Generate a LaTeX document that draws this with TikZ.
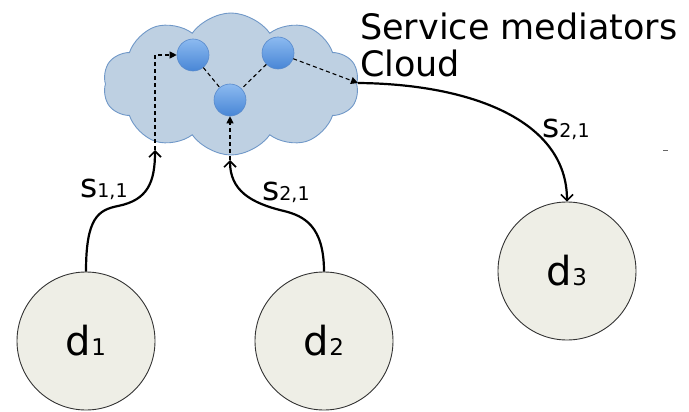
\documentclass[tikz,border=0pt]{standalone}
\usepackage{fontspec}
\setmainfont{DejaVu Sans}
\usetikzlibrary{shapes.symbols,arrows.meta}

\definecolor{cloudfill}{RGB}{190,208,226}
\definecolor{cloudline}{RGB}{112,152,200}
\definecolor{devfill}{RGB}{238,238,230}
\definecolor{medtop}{RGB}{140,186,240}
\definecolor{medbot}{RGB}{72,134,214}
\definecolor{medline}{RGB}{88,138,204}

\tikzset{
  device/.style={circle, draw=black!80, line width=0.9pt, fill=devfill,
    minimum size=138pt, inner sep=0pt},
  mediator/.style={circle, draw=medline, line width=0.6pt,
    top color=medtop, bottom color=medbot, minimum size=32pt, inner sep=0pt},
  flow/.style={line width=2.2pt, -{Straight Barb[length=6pt,width=12pt,line width=1.6pt]}},
  hop/.style={line width=1.1pt, dash pattern=on 4pt off 3pt},
  hoparrow/.style={hop, -{Triangle[length=7pt,width=7pt]}},
  lbl/.style={inner sep=0pt, anchor=base west},
}
\newcommand{\devlabel}[2]{{\fontsize{40}{40}\selectfont #1}{\fontsize{23}{23}\selectfont #2}}
\newcommand{\flowlabel}[2]{{\fontsize{33}{33}\selectfont #1}{\fontsize{19}{19}\selectfont #2}}

\begin{document}
\begin{tikzpicture}[x=1pt,y=-1pt]
  \useasboundingbox (0,0) rectangle (689,412);

  % mediator cloud
  \node[cloud, cloud puffs=10, cloud puff arc=110, aspect=1.8,
        draw=cloudline, fill=cloudfill, line width=0.9pt,
        minimum width=256pt, minimum height=142pt] (cloud) at (231,84) {};

  \node[lbl, align=left, font=\fontsize{35}{37}\selectfont] (title) at (360,77)
    {Service mediators\\Cloud};

  % mediators inside the cloud
  \node[mediator] (m1) at (193,55) {};
  \node[mediator] (m2) at (278,53) {};
  \node[mediator] (m3) at (230,100) {};

  % devices
  \node[device] (d1) at (86,341) {\devlabel{d}{1}};
  \node[device] (d2) at (324,341) {\devlabel{d}{2}};
  \node[device] (d3) at (567,271) {\devlabel{d}{3}};

  % entry and exit points on the cloud
  \coordinate (in1) at (155,150);
  \coordinate (in2) at (230,160);
  \coordinate (out) at (358,83);

  % flows from the devices into the cloud
  \draw[flow] (d1.north) .. controls (86,218) and (98,210) .. (118,206)
                         .. controls (148,200) and (155,182) .. (in1);
  \draw[flow] (d2.north) .. controls (324,226) and (304,216) .. (284,211)
                         .. controls (250,203) and (230,190) .. (in2);

  % routing between mediators
  \draw[hoparrow] (in1) |- (m1.west);
  \draw[hoparrow] (in2) -- (m3.south);
  \draw[hop] (m1) -- (m3);
  \draw[hop] (m2) -- (m3);
  \draw[hoparrow] (m2) -- (out);

  % flow from the cloud to d3
  \draw[flow] (out) .. controls (470,84) and (567,120) .. (d3.north);

  % flow labels
  \node[lbl] (l1) at (80,197) {\flowlabel{s}{1,1}};
  \node[lbl] (l2) at (262,200) {\flowlabel{s}{2,1}};
  \node[lbl] (l3) at (542,137) {\flowlabel{s}{2,1}};

  % small stray mark
  \draw[black!60, line width=1pt] (663,150) -- (668,150);
\end{tikzpicture}
\end{document}
